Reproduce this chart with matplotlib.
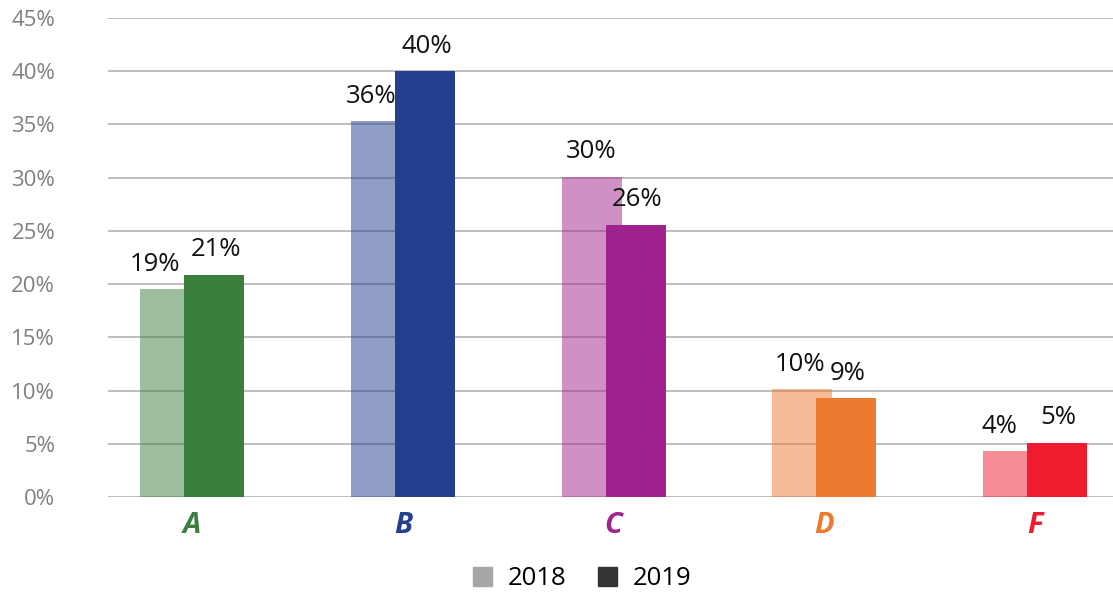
import matplotlib.pyplot as plt
from matplotlib.patches import Patch
import numpy as np

plt.rcParams['font.family'] = ['Open Sans', 'DejaVu Sans']

# data
categories = ['A', 'B', 'C', 'D', 'F']
v2018 = [19.5, 35.3, 30.1, 10.1, 4.3]
v2019 = [20.9, 40.0, 25.6, 9.3, 5.1]
labels2018 = ['19%', '36%', '30%', '10%', '4%']
labels2019 = ['21%', '40%', '26%', '9%', '5%']
colors = ['#3A7F3C', '#233F8E', '#A0228E', '#EC7B30', '#EE1C2E']

fig = plt.figure(figsize=(11.13, 5.94), dpi=100)
ax = fig.add_axes([0.097, 0.1633, 0.903, 0.8064])

x = np.arange(len(categories))
width = 0.285
off = 0.1045
# label nudges (points) so the 2018 labels don't run into the 2019 ones
nudge18 = [-11, -7, 0, -2, -10]

ax.bar(x - off, v2018, width, color=colors, alpha=0.5, zorder=3)
ax.bar(x + off, v2019, width, color=colors, zorder=4)

for i in range(len(categories)):
    ax.annotate(labels2018[i], (x[i] - off, v2018[i]), xytext=(nudge18[i], 9),
                textcoords='offset points', ha='center', va='bottom',
                fontsize=18.5, color='#111111', zorder=5)
    ax.annotate(labels2019[i], (x[i] + off, v2019[i]), xytext=(1, 9),
                textcoords='offset points', ha='center', va='bottom',
                fontsize=18.5, color='#111111', zorder=5)

ax.set_ylim(0, 45)
ax.set_xlim(-0.40, 4.37)
ax.set_yticks(np.arange(0, 46, 5))
ax.set_yticklabels([f'{t}%' for t in range(0, 46, 5)], fontsize=16, color='#808080')
ax.set_xticks(x)
ax.set_xticklabels(categories, fontsize=21, fontweight='bold', style='italic')
for lbl, c in zip(ax.get_xticklabels(), colors):
    lbl.set_color(c)
ax.tick_params(axis='y', length=0, pad=38)
ax.tick_params(axis='x', length=0, pad=10)
ax.grid(axis='y', color='#B3B3B3', linewidth=1.2, zorder=0)
ax.set_axisbelow(True)
for s in ax.spines.values():
    s.set_visible(False)

handles = [Patch(color='#A6A6A6', label='2018'), Patch(color='#333333', label='2019')]
fig.legend(handles=handles, loc='center', bbox_to_anchor=(0.523, 0.026), ncol=2,
           frameon=False, fontsize=18.5, handlelength=0.75, handleheight=0.75,
           columnspacing=1.25, handletextpad=0.6)

plt.savefig('out.png', dpi=100)
